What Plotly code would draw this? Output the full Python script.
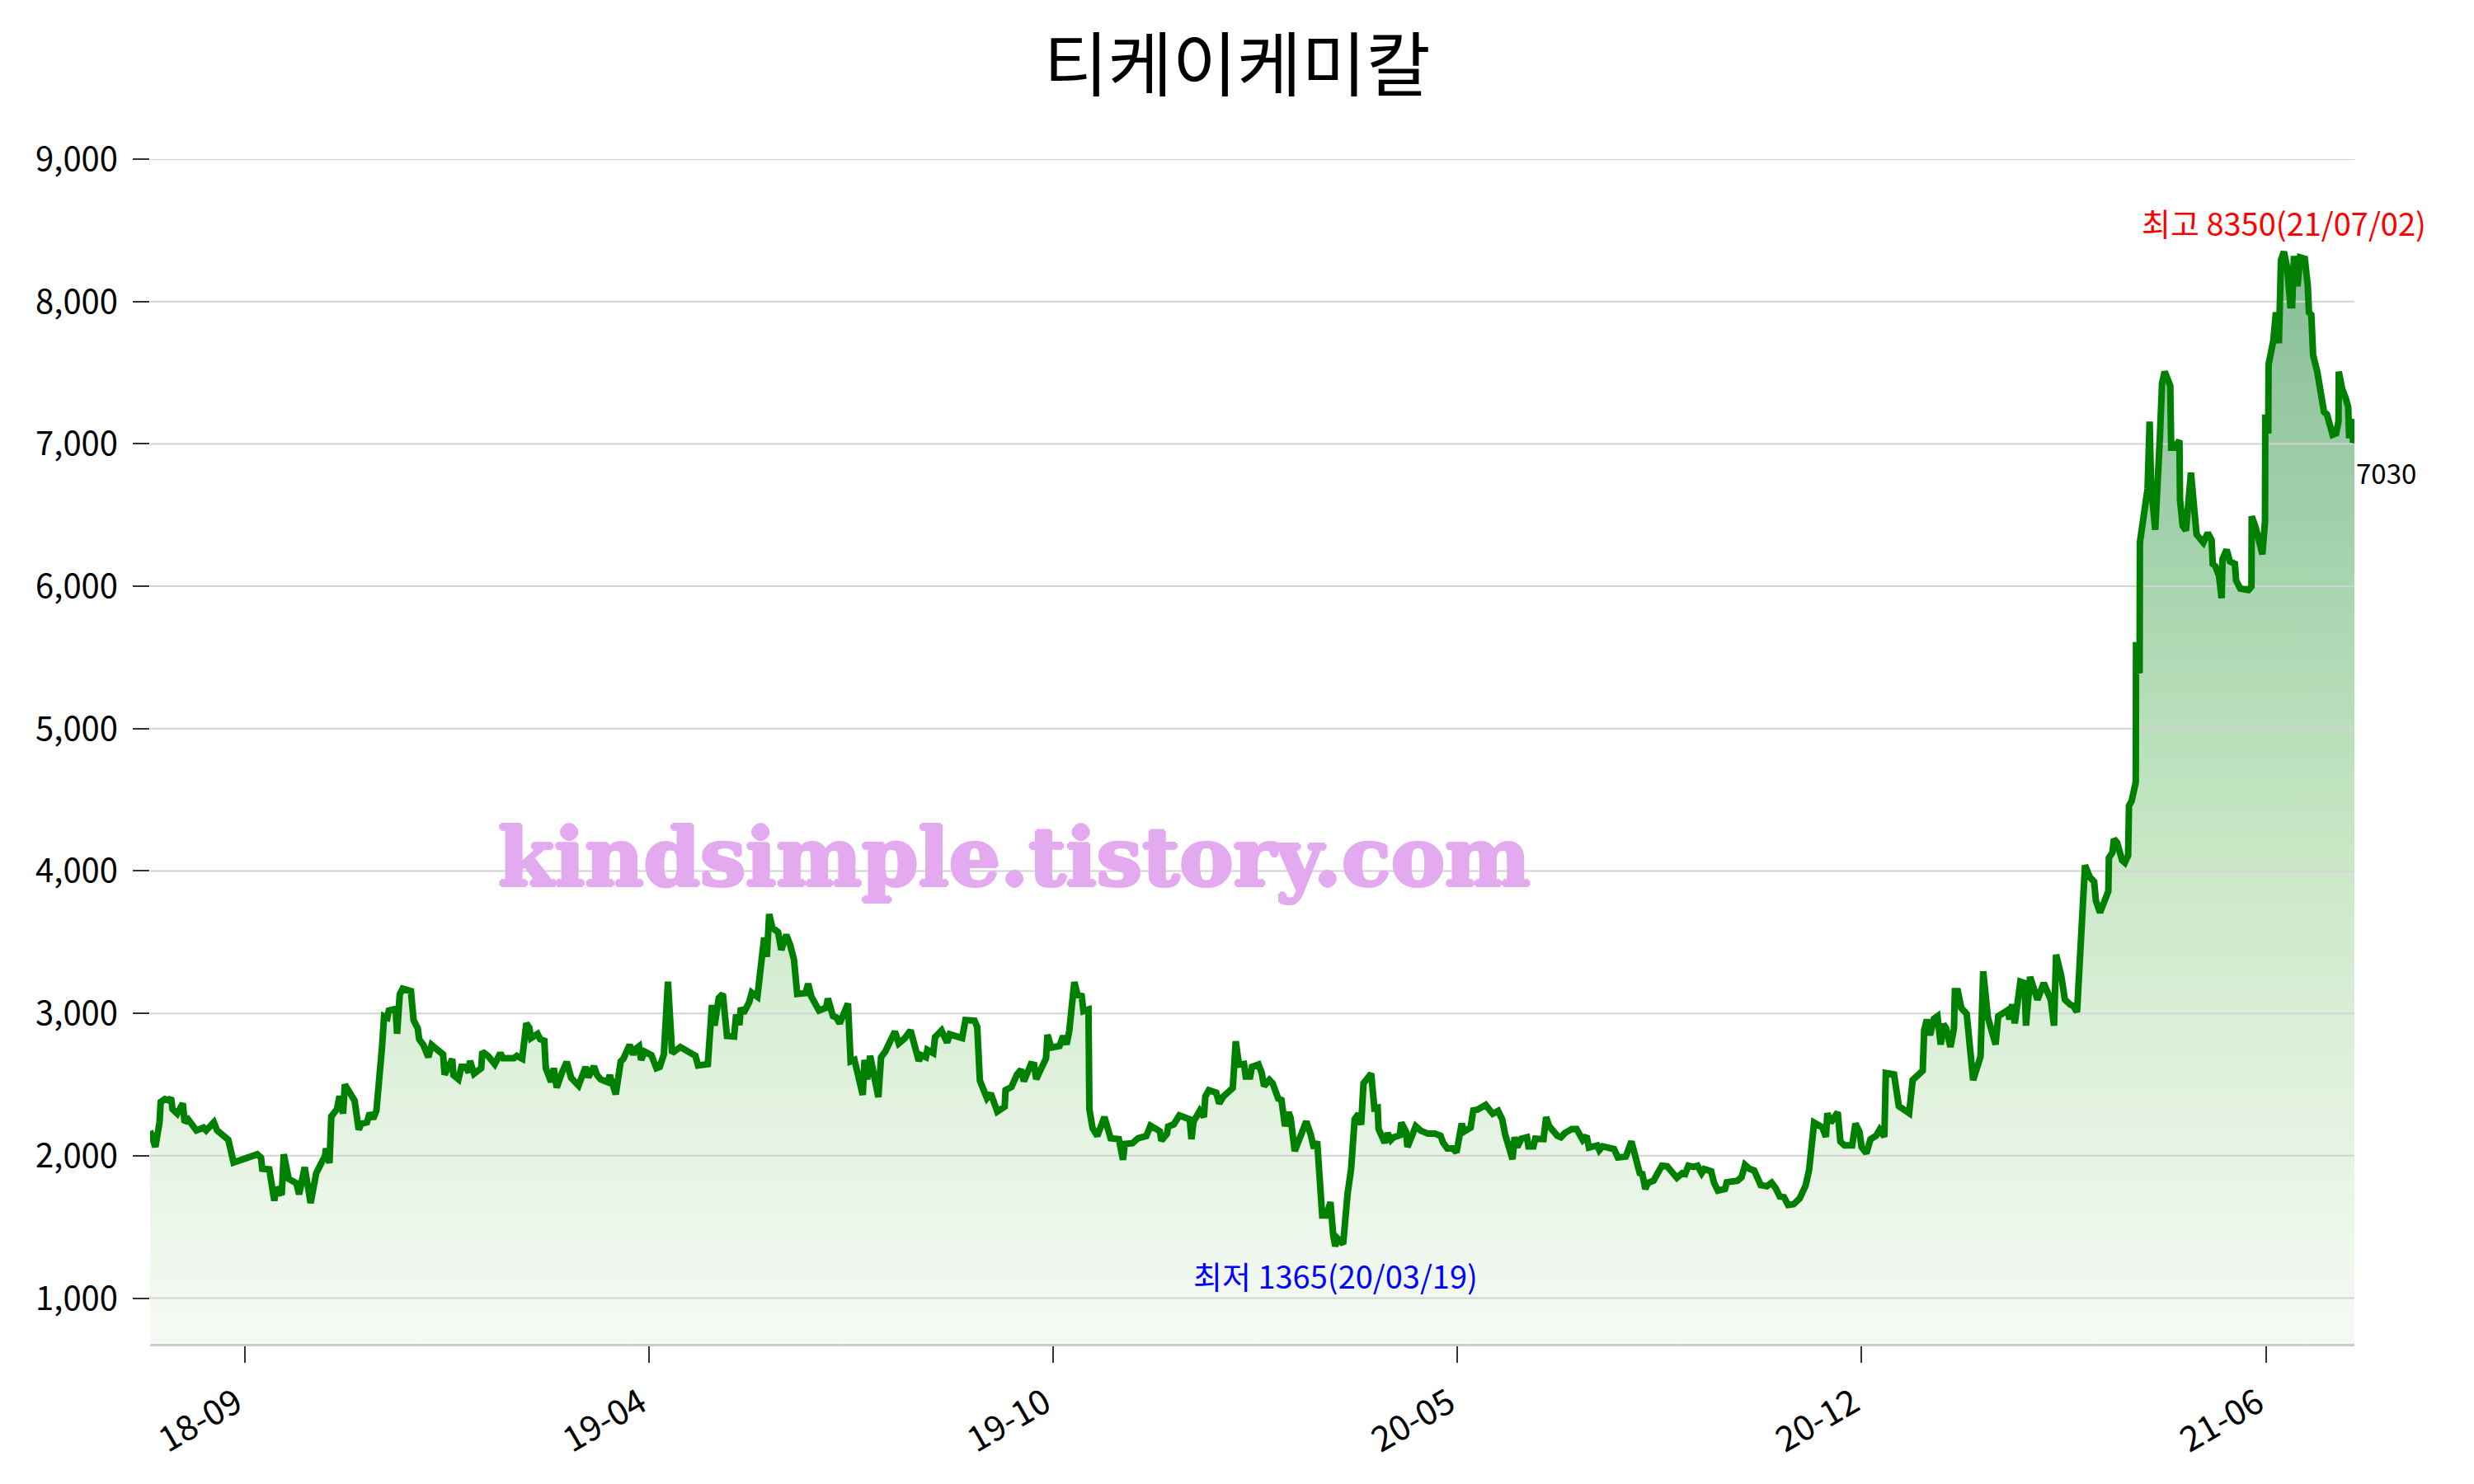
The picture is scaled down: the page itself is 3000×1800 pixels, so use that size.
import plotly.graph_objects as go

# ---------------- data ----------------
title_text = "티케이케미칼"
watermark_text = "kindsimple.tistory.com"

# trading-day index (0 = first day shown) and closing price
day_idx = [
    0, 1.8, 3.2, 3.6, 5.0, 6.4, 7.1, 7.6, 9.2, 11.1, 11.7, 12.9, 15.7, 18.1, 19.0, 21.6, 22.7, 24.1, 26.5, 28.3,
    33.0, 36.3, 37.6, 38.0, 40.4, 42.1, 42.7, 44.6, 45.3, 47.0, 49.6, 50.5, 52.4, 54.4, 56.3, 59.3, 59.6, 60.8,
    61.4, 63.3, 64.2, 65.4, 66.0, 69.3, 70.7, 71.6, 73.5, 74.4, 75.6, 76.7, 78.6, 79.3, 80.4, 80.9, 83.2, 83.7,
    84.6, 85.6, 88.4, 89.3, 90.7, 91.2, 92.6, 94.3, 95.4, 96.8, 99.3, 99.8, 100.5, 102.4, 102.8, 104.5, 105.5,
    107.0, 108.0, 108.4, 109.8, 112.2, 112.6, 114.5, 116.8, 118.7, 119.6, 123.3, 124.3, 126.1, 127.5, 128.5,
    129.1, 131.3, 132.2, 133.6, 134.1, 135.9, 136.8, 137.8, 139.6, 141.2, 142.7, 145.2, 147.6, 148.5, 150.4,
    151.5, 152.7, 155.0, 155.8, 157.8, 159.5, 160.4, 162.5, 163.7, 164.5, 165.7, 166.4, 167.6, 169.9, 171.6,
    172.7, 174.1, 175.5, 176.9, 179.7, 181.6, 184.8, 185.7, 189.0, 190.4, 191.3, 192.7, 194.1, 195.5, 197.9,
    198.6, 199.7, 200.2, 201.1, 203.0, 203.9, 205.8, 207.0, 208.1, 209.0, 209.8, 210.9, 212.8, 213.9, 215.6,
    217.0, 218.2, 219.3, 222.1, 223.0, 224.1, 226.7, 229.1, 229.7, 231.4, 232.5, 233.7, 236.5, 237.4, 238.7,
    241.5, 242.1, 243.0, 244.0, 246.8, 247.7, 249.1, 252.4, 253.7, 255.6, 257.7, 260.5, 261.4, 262.9, 263.4,
    265.4, 266.0, 268.2, 270.1, 271.0, 275.2, 276.3, 279.4, 280.3, 281.2, 283.6, 284.9, 287.1, 289.6, 289.9,
    291.9, 293.8, 295.2, 296.1, 298.5, 299.6, 300.3, 301.3, 303.6, 304.1, 305.4, 308.2, 309.4, 310.6, 311.5,
    313.2, 314.3, 315.7, 316.3, 318.0, 318.3, 319.4, 321.0, 323.4, 325.0, 325.5, 328.3, 329.7, 330.3, 332.9,
    334.8, 337.6, 339.0, 342.2, 342.7, 344.6, 345.0, 346.9, 348.8, 352.3, 352.9, 353.6, 355.7, 357.1, 357.6,
    358.8, 361.3, 362.3, 363.7, 366.9, 367.9, 369.0, 370.7, 371.3, 372.8, 373.4, 375.6, 376.7, 377.5, 379.3,
    380.4, 381.2, 382.3, 383.4, 384.6, 385.8, 386.5, 387.9, 389.9, 390.7, 391.8, 393.3, 394.4, 395.5, 397.2,
    398.6, 400.0, 400.9, 401.6, 402.4, 403.4, 404.3, 405.8, 407.0, 408.2, 409.5, 410.4, 411.2, 413.8, 414.9,
    416.0, 416.3, 418.4, 419.4, 420.5, 421.4, 423.5, 424.0, 425.6, 426.1, 428.9, 430.7, 433.1, 435.4, 437.3,
    438.2, 439.6, 441.4, 442.7, 444.5, 445.2, 447.5, 448.4, 449.8, 452.6, 455.0, 456.8, 458.2, 459.2, 461.7,
    462.4, 463.3, 464.7, 466.6, 467.1, 468.8, 469.4, 472.2, 473.1, 474.1, 476.9, 478.1, 479.4, 480.6, 481.8,
    483.4, 485.5, 486.8, 487.6, 490.4, 491.1, 492.2, 494.6, 496.1, 497.4, 500.1, 502.0, 504.8, 505.7, 506.7,
    507.6, 509.5, 510.9, 512.3, 514.1, 515.5, 517.4, 519.2, 520.2, 521.3, 523.0, 524.4, 525.8, 526.7, 529.0,
    530.0, 531.3, 533.7, 534.3, 537.9, 539.3, 540.5, 542.1, 543.6, 545.8, 547.9, 549.5, 550.9, 552.3, 553.7,
    555.1, 557.0, 559.0, 561.0, 562.2, 563.9, 566.7, 567.9, 568.4, 569.5, 571.9, 572.8, 574.2, 576.8, 577.9,
    579.3, 580.0, 581.6, 583.0, 584.9, 586.1, 587.7, 588.2, 591.0, 591.7, 592.6, 596.1, 597.3, 600.7, 601.2,
    602.1, 603.2, 604.5, 605.7, 606.8, 607.7, 608.6, 610.1, 611.3, 611.6, 612.6, 613.8, 615.6, 617.8, 620.3,
    621.2, 622.8, 624.0, 625.4, 626.3, 629.6, 630.1, 631.0, 631.9, 633.8, 635.2, 635.7, 637.1, 639.6, 641.7,
    644.1, 645.2, 645.9, 647.6, 648.9, 650.6, 651.8, 653.0, 655.7, 657.3, 658.8, 659.4, 660.8, 663.6, 663.8,
    665.0, 665.5, 666.6, 668.3, 669.2, 670.3, 670.6, 671.5, 672.9, 673.0, 673.5, 674.2, 674.3, 676.9, 677.6,
    678.1, 679.5, 681.1, 681.8, 682.7, 684.6, 684.9, 686.0, 687.7, 687.9, 688.8, 689.9, 691.6, 693.0, 693.5,
    695.8, 697.3, 698.6, 699.0, 699.9, 701.1, 702.0, 702.3, 703.7, 704.8, 706.5, 706.9, 708.3, 711.1, 712.1,
    712.2, 713.5, 715.8, 716.7, 716.8, 717.8, 717.9, 719.5, 720.4, 721.4, 722.1, 723.1, 724.2, 725.3, 725.9,
    726.5, 727.7, 728.6, 730.2, 731.2, 731.6, 732.4, 733.0, 734.4, 735.8, 736.7, 737.7, 739.6, 740.8, 741.6,
    741.7, 742.8, 744.0, 744.9, 745.2, 746.4, 746.5, 747.0,
]
close = [
    2174, 2062, 2235, 2378, 2398, 2388, 2408, 2327, 2296, 2368, 2235, 2255, 2178, 2198, 2178, 2235, 2178, 2153, 2113, 1953,
    1986, 2010, 1986, 1909, 1904, 1684, 1776, 1725, 2010, 1837, 1807, 1729, 1919, 1668, 1878, 2000, 2051, 1949,
    2276, 2327, 2419, 2296, 2500, 2388, 2184, 2225, 2235, 2300, 2260, 2317, 2765, 2980, 2970, 3020, 3031, 2857,
    3133, 3173, 3157, 2953, 2895, 2818, 2779, 2692, 2779, 2750, 2711, 2570, 2595, 2679, 2566, 2537, 2624,
    2624, 2585, 2667, 2576, 2615, 2731, 2702, 2644, 2721, 2686, 2686, 2702, 2682, 2930, 2899,
    2827, 2856, 2818, 2808, 2615, 2518, 2615, 2479, 2586, 2659, 2547, 2493, 2624, 2551, 2628,
    2566, 2537, 2518, 2566, 2431, 2663, 2682, 2779, 2711, 2750, 2769, 2673, 2731, 2706, 2615,
    2624, 2711, 3223, 2721, 2763, 2735, 2702, 2634, 2644, 3059, 2914, 3107, 3136, 2841, 2837,
    2992, 2918, 3040, 3001, 3078, 3146, 3117, 3310, 3532, 3397, 3697, 3600, 3571, 3446, 3552,
    3474, 3378, 3136, 3142, 3208, 3117, 3020, 3040, 3104, 2982, 2972, 2930, 3069, 2663, 2673,
    2427, 2673, 2537, 2702, 2412, 2692, 2731, 2872, 2789, 2822, 2880, 2667, 2706, 2692, 2744,
    2721, 2833, 2880, 2795, 2853, 2827, 2953, 2949, 2905, 2527, 2405, 2438, 2310, 2345, 2461,
    2483, 2572, 2605, 2523, 2643, 2638, 2538, 2583, 2683, 2849, 2760, 2771, 2842, 2782, 2878,
    3220, 3131, 3122, 3016, 3027, 2327, 2194, 2139, 2272, 2183, 2123, 2117, 1972, 2083, 2088,
    2123, 2139, 2212, 2172, 2106, 2154, 2205, 2221, 2283, 2256, 2117, 2239, 2316, 2272, 2416,
    2461, 2443, 2367, 2416, 2476, 2804, 2640, 2645, 2557, 2557, 2625, 2641, 2583, 2489, 2532,
    2509, 2460, 2402, 2392, 2208, 2305, 2266, 2033, 2130, 2159, 2241, 2150, 2052, 2101, 1581,
    1581, 1674, 1451, 1365, 1420, 1395, 1380, 1732, 1907, 2256, 2295, 2218, 2509, 2577, 2334,
    2338, 2188, 2091, 2159, 2111, 2130, 2144, 2233, 2169, 2062, 2208, 2175, 2155, 2155, 2140,
    2091, 2052, 2052, 2023, 2227, 2169, 2198, 2318, 2324, 2357, 2295, 2315, 2256, 2150, 1975,
    2130, 2062, 2120, 2130, 2066, 2066, 2120, 2117, 2272, 2208, 2140, 2130, 2159, 2169, 2188,
    2188, 2111, 2140, 2058, 2072, 2039, 2066, 2052, 2047, 1988, 1994, 2101, 1878, 1872, 1767,
    1810, 1825, 1878, 1930, 1926, 1887, 1845, 1878, 1872, 1930, 1922, 1930, 1878, 1907, 1891,
    1810, 1755, 1767, 1814, 1825, 1849, 1936, 1907, 1897, 1794, 1786, 1810, 1771, 1713, 1709,
    1654, 1660, 1700, 1790, 1900, 2233, 2199, 2133, 2299, 2233, 2306, 2100, 2073, 2073, 2226,
    2166, 2060, 2017, 2116, 2140, 2183, 2133, 2581, 2571, 2449, 2349, 2299, 2532, 2598, 2880,
    2957, 2847, 2963, 2980, 2781, 2924, 2897, 2764, 2897, 3156, 3156, 3037, 2997, 2532, 2698,
    3296, 2970, 2897, 2781, 2980, 3023, 2957, 3063, 2930, 3223, 3213, 2914, 3256, 3096, 3213,
    3096, 2914, 3412, 3269, 3096, 3063, 3050, 3010, 4041, 3958, 3925, 3791, 3708, 3858, 4091,
    4131, 4225, 4198, 4075, 4058, 4108, 4458, 4491, 4625, 5608, 5420, 5391, 6307, 6684, 7157,
    6707, 6397, 7057, 7424, 7507, 7407, 6974, 6974, 7024, 6607, 6424, 6391, 6797, 6391, 6364,
    6307, 6374, 6324, 6157, 6141, 6074, 5917, 6191, 6257, 6174, 6157, 6041, 5984, 5974, 5998,
    6491, 6417, 6224, 6457, 7207, 7074, 7557, 7723, 7923, 7707, 8290, 8350, 8240, 7973, 7973,
    8320, 8107, 8310, 8300, 8107, 7923, 7907, 7624, 7507, 7340, 7224, 7207, 7064, 7074, 7157,
    7507, 7390, 7324, 7257, 7040, 7174, 7010, 7030,
]

tick_idx = [32, 169, 306, 443, 580, 717]
tick_labels = ["18-09", "19-04", "19-10", "20-05", "20-12", "21-06"]
y_ticks = [1000, 2000, 3000, 4000, 5000, 6000, 7000, 8000, 9000]
high_date = "21/07/02"
low_date = "20/03/19"

# ---------------- figure ----------------
FONT = "Noto Sans CJK KR"
x_min, x_max = 0, 747
y_min, y_max = 679, 9000
WM = "rgb(228,170,240)"

hi = max(close)
lo = min(close)
i_hi = close.index(hi)
i_lo = close.index(lo)

fig = go.Figure()

# gradient area (under the line)
fig.add_trace(go.Scatter(
    x=day_idx, y=close, mode="none", fill="tozeroy",
    fillgradient=dict(
        type="vertical",
        colorscale=[
            [0.0, "rgb(246,250,245)"],
            [0.2, "rgb(228,243,225)"],
            [0.45, "rgb(200,231,197)"],
            [0.7, "rgb(166,213,174)"],
            [1.0, "rgb(136,189,151)"],
        ],
        start=y_min, stop=hi,
    ),
    hoverinfo="skip", showlegend=False,
))

# horizontal grid drawn above the area fill
gx, gy = [], []
for v in y_ticks:
    gx += [x_min, x_max, None]
    gy += [v, v, None]
fig.add_trace(go.Scatter(
    x=gx, y=gy, mode="lines", line=dict(color="rgb(211,211,211)", width=2),
    hoverinfo="skip", showlegend=False,
))

# price line
fig.add_trace(go.Scatter(
    x=day_idx, y=close, mode="lines",
    line=dict(color="#008000", width=8),
    showlegend=False,
))

fig.add_annotation(
    x=day_idx[i_hi], y=hi, text=f"최고 {hi}({high_date})",
    showarrow=False, yshift=36, xanchor="center", yanchor="middle",
    font=dict(family=FONT, size=38, color="red"),
)
fig.add_annotation(
    x=day_idx[i_lo], y=lo, text=f"최저 {lo}({low_date})",
    showarrow=False, yshift=-35, xanchor="center", yanchor="middle",
    font=dict(family=FONT, size=38, color="blue"),
)
fig.add_annotation(
    x=day_idx[-1], y=close[-1], text=f"{close[-1]}",
    showarrow=False, yshift=-40, xshift=0, xanchor="left", yanchor="middle",
    font=dict(family=FONT, size=33, color="black"),
)
fig.add_annotation(
    xref="paper", yref="paper", x=0.392, y=0.411, text=f"<b>{watermark_text}</b>",
    showarrow=False, xanchor="center", yanchor="middle",
    font=dict(
        family="DejaVu Serif", size=98, color=WM,
        shadow=f"2px 0 0 {WM}, -2px 0 0 {WM}, 0 2px 0 {WM}, 0 -2px 0 {WM}",
    ),
)

fig.update_layout(
    width=3000, height=1800,
    paper_bgcolor="white", plot_bgcolor="white",
    margin=dict(l=174, r=153, t=185, b=178),
    title=dict(
        text=title_text, x=0.5 - 8 / 3000, xref="container", xanchor="center",
        y=1 - 72 / 1800, yref="container", yanchor="middle",
        font=dict(family=FONT, size=85, color="black"),
    ),
    font=dict(family=FONT, color="black"),
    xaxis=dict(
        range=[x_min, x_max], tickmode="array", tickvals=tick_idx, ticktext=tick_labels,
        tickangle=-30, ticks="outside", ticklen=20, tickwidth=2, tickcolor="#333",
        ticklabelshift=-10, ticklabelstandoff=8,
        showgrid=False, zeroline=False,
        showline=True, linecolor="rgb(204,204,204)", linewidth=3,
        tickfont=dict(family=FONT, size=42, color="black"),
    ),
    yaxis=dict(
        range=[y_min, y_max], tickmode="array", tickvals=y_ticks,
        tickformat=",d", ticks="outside", ticklen=20, tickwidth=2, tickcolor="#333",
        ticklabelstandoff=10,
        showgrid=False, zeroline=False, showline=False,
        tickfont=dict(family=FONT, size=40, color="black"),
    ),
)

fig.write_html("out.html")
